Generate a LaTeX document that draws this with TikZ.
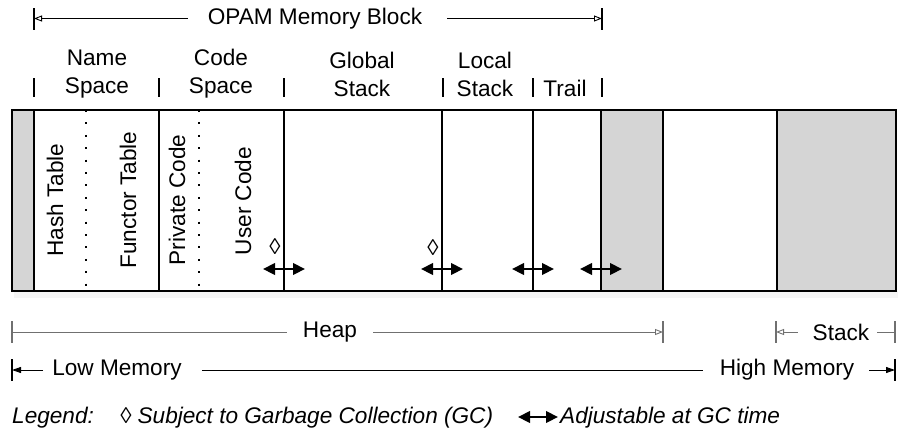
\documentclass[tikz,border=0pt]{standalone}
\usepackage{fontspec}
\setmainfont{Liberation Sans}
\usetikzlibrary{arrows.meta}
\definecolor{memgray}{HTML}{D5D5D5}
\definecolor{dimgray}{HTML}{707070}
\begin{document}
\begin{tikzpicture}[x=1pt,y=-1pt,
  lbl/.style={font=\fontsize{22.6}{28}\selectfont, inner sep=0pt, align=center},
  vlbl/.style={lbl, rotate=90},
  leg/.style={font=\fontsize{22.6}{28}\itshape, inner sep=0pt},
  segline/.style={line width=1.3pt},
  gcline/.style={line width=1.6pt, dash pattern=on 2pt off 10.4pt},
  tick/.style={line width=1.2pt},
  adjust/.style={line width=2.2pt, {Triangle[length=12pt,width=11.5pt]}-{Triangle[length=12pt,width=11.5pt]}},
  opentip/.style={-{Triangle[open,length=8pt,width=6pt]}, line width=0.9pt},
  filltip/.style={-{Triangle[length=9pt,width=6pt]}, line width=0.9pt},
  plain/.style={line width=0.9pt}]
\useasboundingbox (0,0) rectangle (898,432);

% memory bar
\fill[gray!8] (14,291) rectangle (898,298);
\draw[segline, fill=memgray] (12,110) rectangle (34,291);
\draw[segline, fill=memgray] (601,110) rectangle (663,291);
\draw[segline] (663,110) rectangle (777,291);
\draw[segline, fill=memgray] (777,110) rectangle (896,291);
\draw[line width=2.6pt, fill=white] (34,110) rectangle (601,291);
\foreach \x in {159,284,442,533} \draw[segline] (\x,110) -- (\x,291);
\foreach \x in {86,199} \draw[gcline] (\x,110) -- (\x,290);

% labels inside the bar
\node[vlbl] (hash) at (55,200) {Hash Table};
\node[vlbl] (functor) at (128,200) {Functor Table};
\node[vlbl] (private) at (177,200) {Private Code};
\node[vlbl] (user) at (243,201) {User Code};

% GC markers and adjustable boundaries
\node[lbl] (gc1) at (275,247) {◊};
\node[lbl] (gc2) at (433,248) {◊};
\foreach \x/\n in {284/a1,442/a2,533/a3,601/a4} {
  \coordinate (\n l) at (\x-21,269);
  \coordinate (\n r) at (\x+21,269);
  \draw[adjust] (\n l) -- (\n r);
}

% region headings
\node[lbl] (ns) at (97,74) {Name\\Space};
\node[lbl] (cs) at (221,74) {Code\\Space};
\node[lbl] (gs) at (362,74) {Global\\Stack};
\node[lbl] (ls) at (485,74) {Local\\Stack};
\node[lbl] (tr) at (565,88) {Trail};
\foreach \x in {34,159,284,443,533,602} \draw[tick] (\x,78) -- (\x,97);

% OPAM memory block extent
\node[lbl] (opam) at (315,18.5) {OPAM Memory Block};
\coordinate (opamL) at (34,18.5);
\coordinate (opamR) at (602,18.5);
\draw[tick] (34,8) -- (34,30);
\draw[tick] (602,8) -- (602,30);
\draw[opentip] ([xshift=-20pt]opam.west) -- (opamL);
\draw[opentip] ([xshift=25pt]opam.east) -- (opamR);

% heap and stack extents
\node[lbl] (heap) at (330,332) {Heap};
\coordinate (heapL) at (12,332);
\coordinate (heapR) at (663,332);
\draw[tick, dimgray] (12,321) -- (12,343);
\draw[tick, dimgray] (663,321) -- (663,343);
\draw[plain, dimgray] ([xshift=-16pt]heap.west) -- (heapL);
\draw[opentip, dimgray] ([xshift=16pt]heap.east) -- (heapR);

\node[lbl] (stack) at (841,332) {Stack};
\coordinate (stackL) at (776,332);
\coordinate (stackR) at (895,332);
\draw[tick, dimgray] (776,321) -- (776,343);
\draw[tick, dimgray] (895,321) -- (895,343);
\draw[opentip, dimgray] ([xshift=-15pt]stack.west) -- (stackL);
\draw[plain, dimgray] ([xshift=8pt]stack.east) -- (stackR);

% address direction
\node[lbl] (low) at (117,370) {Low Memory};
\node[lbl] (high) at (787,370) {High Memory};
\coordinate (lowL) at (12,370);
\coordinate (highR) at (895,370);
\draw[tick] (12,359) -- (12,381);
\draw[tick] (895,359) -- (895,381);
\draw[filltip] ([xshift=-9pt]low.west) -- (lowL);
\draw[plain] ([xshift=20pt]low.east) -- ([xshift=-17pt]high.west);
\draw[filltip] ([xshift=15pt]high.east) -- (highR);

% legend
\node[leg, anchor=west] (legend) at (12,418) {Legend:};
\node[leg, anchor=west] (leggc) at (120,418) {◊ Subject to Garbage Collection (GC)};
\coordinate (legaL) at (518,417);
\coordinate (legaR) at (558,417);
\draw[adjust] (legaL) -- (legaR);
\node[leg, anchor=west] (legadj) at (560,418) {Adjustable at GC time};
\end{tikzpicture}
\end{document}
